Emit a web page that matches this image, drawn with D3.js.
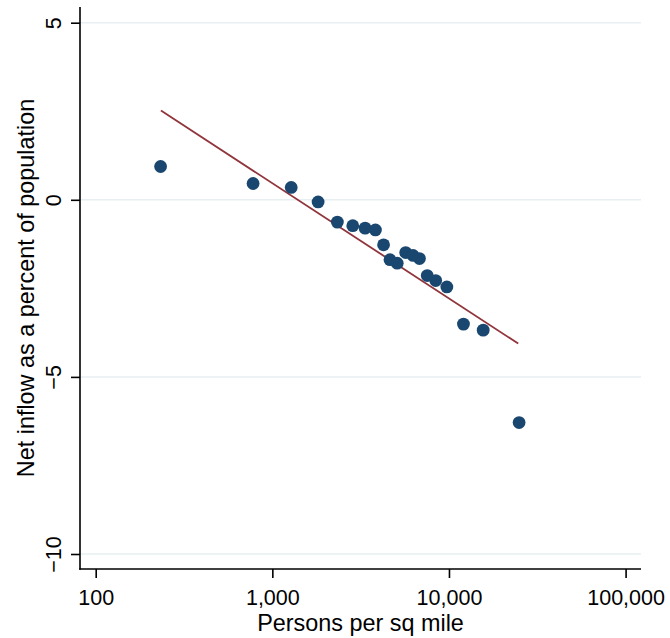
<!DOCTYPE html>
<html>
<head>
<meta charset="utf-8">
<script src="https://cdn.jsdelivr.net/npm/d3@7"></script>
<style>
  body { margin: 0; background: #fff; }
  svg { display: block; font-family: "Liberation Sans", Arial, Helvetica, sans-serif; }
</style>
</head>
<body>
<div id="chart"></div>
<script>
// Data
const density = [233, 778, 1279, 1816, 2334, 2853, 3352, 3834, 4263, 4634,
                 5093, 5690, 6263, 6808, 7532, 8414, 9726, 12080, 15620, 24950];
const netInflow = [0.94, 0.46, 0.35, -0.06, -0.63, -0.73, -0.80, -0.85, -1.27, -1.69,
                   -1.79, -1.49, -1.57, -1.66, -2.14, -2.28, -2.46, -3.51, -3.68, -6.29];

// fitted line end points
const fitX = [234, 24660];
const fitY = [2.52, -4.06];

const xTicks = [100, 1000, 10000, 100000];
const yTicks = [5, 0, -5, -10];

const width = 670;
const height = 638;

// plot region edges
const plotLeft = 80, plotRight = 641, plotTop = 7, plotBottom = 569;

const svg = d3.select('#chart')
    .append('svg')
    .attr('width', width)
    .attr('height', height);

const x = d3.scaleLog()
    .domain([100, 100000])
    .range([95.7, 625.6]);

const y = d3.scaleLinear()
    .domain([-10, 5])
    .range([554, 22.7]);

// Grid lines
svg.append('g')
    .selectAll('line')
    .data(yTicks)
    .join('line')
    .attr('x1', plotLeft)
    .attr('x2', plotRight)
    .attr('y1', d => y(d))
    .attr('y2', d => y(d))
    .attr('stroke', '#e7eff2')
    .attr('stroke-width', 1.5);

// Fitted line
svg.append('line')
    .attr('x1', x(fitX[0]))
    .attr('y1', y(fitY[0]))
    .attr('x2', x(fitX[1]))
    .attr('y2', y(fitY[1]))
    .attr('stroke', '#90353b')
    .attr('stroke-width', 1.8);

// Points
svg.append('g')
    .selectAll('circle')
    .data(density.map((d, i) => ({ x: d, y: netInflow[i] })))
    .join('circle')
    .attr('cx', d => x(d.x))
    .attr('cy', d => y(d.y))
    .attr('r', 6.4)
    .attr('fill', '#1a476f');

// X axis
const xAxis = svg.append('g')
    .attr('transform', `translate(0,${plotBottom})`)
    .call(d3.axisBottom(x)
        .tickValues(xTicks)
        .tickSize(9)
        .tickPadding(12)
        .tickFormat(d3.format(',')));

xAxis.select('.domain').remove();
xAxis.selectAll('.tick line').attr('stroke', '#000').attr('stroke-width', 1.6);
xAxis.selectAll('.tick text')
    .attr('font-size', 21.5)
    .attr('font-family', '"Liberation Sans", Arial, sans-serif')
    .attr('fill', '#000');

svg.append('line')
    .attr('x1', plotLeft - 0.8)
    .attr('x2', plotRight)
    .attr('y1', plotBottom)
    .attr('y2', plotBottom)
    .attr('stroke', '#000')
    .attr('stroke-width', 1.6);

// Y axis
const yAxis = svg.append('g')
    .attr('transform', `translate(${plotLeft},0)`)
    .call(d3.axisLeft(y)
        .tickValues(yTicks)
        .tickSize(9)
        .tickFormat(d3.format('d')));

yAxis.select('.domain').remove();
yAxis.selectAll('.tick line').attr('stroke', '#000').attr('stroke-width', 1.6);
yAxis.selectAll('.tick text')
    .attr('x', null)
    .attr('dy', null)
    .attr('text-anchor', 'middle')
    .attr('transform', 'translate(-19,0) rotate(-90)')
    .attr('font-size', 21.5)
    .attr('font-family', '"Liberation Sans", Arial, sans-serif')
    .attr('fill', '#000');

svg.append('line')
    .attr('x1', plotLeft)
    .attr('x2', plotLeft)
    .attr('y1', plotTop)
    .attr('y2', plotBottom + 0.8)
    .attr('stroke', '#000')
    .attr('stroke-width', 1.6);

// Axis titles
svg.append('text')
    .attr('x', (plotLeft + plotRight) / 2)
    .attr('y', 631)
    .attr('text-anchor', 'middle')
    .attr('font-size', 23.4)
    .attr('fill', '#000')
    .text('Persons per sq mile');

svg.append('text')
    .attr('transform', `translate(34,${(plotTop + plotBottom) / 2}) rotate(-90)`)
    .attr('text-anchor', 'middle')
    .attr('font-size', 23.4)
    .attr('fill', '#000')
    .text('Net inflow as a percent of population');
</script>
</body>
</html>
